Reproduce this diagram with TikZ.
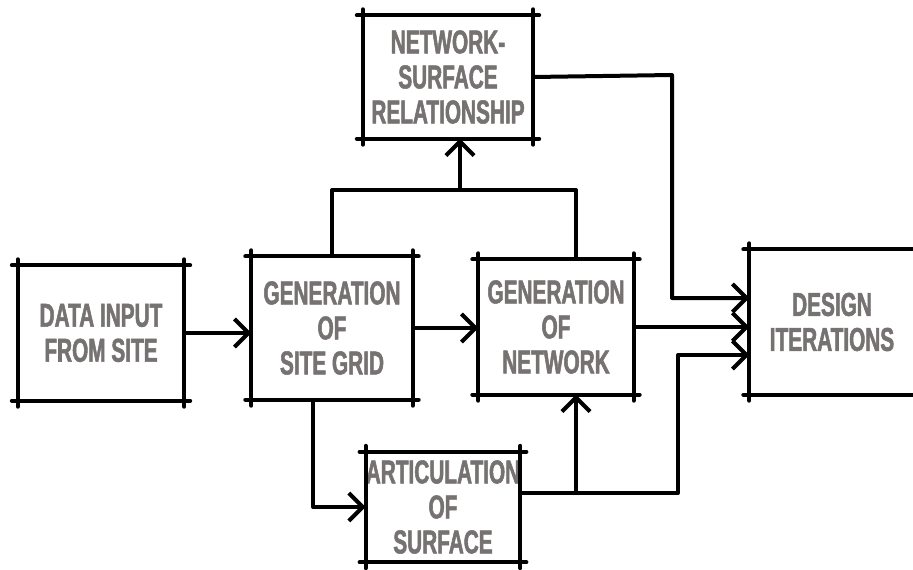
\documentclass[tikz,border=0pt]{standalone}
\usepackage{fontspec}
\setmainfont{Liberation Sans}
\newfontfamily\lblfont{Liberation Sans}[FakeStretch=0.63,FakeBold=1.6]
\usetikzlibrary{arrows.meta}
\definecolor{txt}{RGB}{118,114,114}
\begin{document}
\begin{tikzpicture}[x=1pt,y=-1pt,
  skline/.style={draw=black,line width=4pt,line cap=round},
  arr/.style={draw=black,line width=4pt,line join=round,-{Straight Barb[length=14pt,width=28pt,line width=4pt]}},
  wire/.style={draw=black,line width=4pt,line join=round},
  sketchbox/.style args={#1/#2}{minimum width=#1, minimum height=#2, inner sep=0pt, align=center,
    font=\lblfont\bfseries\fontsize{33}{35}\selectfont, text=txt,
    append after command={
      ([xshift=-6pt]\tikzlastnode.north west) edge[skline] ([xshift=6pt]\tikzlastnode.north east)
      ([yshift=6pt]\tikzlastnode.north east) edge[skline] ([yshift=-6pt]\tikzlastnode.south east)
      ([xshift=6pt]\tikzlastnode.south east) edge[skline] ([xshift=-6pt]\tikzlastnode.south west)
      ([yshift=-6pt]\tikzlastnode.south west) edge[skline] ([yshift=6pt]\tikzlastnode.north west)}}]
\useasboundingbox[fill=white] (0,0) rectangle (913,570);

\node[sketchbox=166pt/135pt] (data) at (101,333) {DATA INPUT\\FROM SITE};
\node[sketchbox=161pt/143pt] (grid) at (332,328) {GENERATION\\OF\\SITE GRID};
\node[sketchbox=170pt/123pt] (nsr) at (448,77) {NETWORK-\\SURFACE\\RELATIONSHIP};
\node[sketchbox=155pt/135pt] (net) at (556,327) {GENERATION\\OF\\NETWORK};
\node[sketchbox=165pt/145pt] (des) at (832,322) {DESIGN\\ITERATIONS};
\node[sketchbox=150pt/110pt] (art) at (443,507) {ARTICULATION\\OF\\SURFACE};

\coordinate (jl) at (332,190);
\coordinate (jm) at (460,190);
\coordinate (jr) at (576,190);
\coordinate (c1) at (672,75);
\coordinate (c2) at (672,298);
\coordinate (a1) at (576,493);
\coordinate (a2) at (678,493);
\coordinate (a3) at (678,355);
\coordinate (g1) at (313,507);

\draw[arr] (data.east) -- (data.east -| grid.west);
\draw[arr] (grid.east) -- (grid.east -| net.west);
\draw[wire] (grid.north) -- (jl) -- (jr) -- (jr |- net.north);
\draw[arr] (jm) -- (jm |- nsr.south);
\draw[arr] (nsr.east) -- (c1) -- (c2) -- (c2 -| des.west);
\draw[arr] (net.east) -- (net.east -| des.west);
\draw[arr] (art.east |- a1) -- (a2) -- (a3) -- (a3 -| des.west);
\draw[arr] (a1) -- (a1 |- net.south);
\draw[arr] (grid.south -| g1) -- (g1) -- (g1 -| art.west);
\end{tikzpicture}
\end{document}
